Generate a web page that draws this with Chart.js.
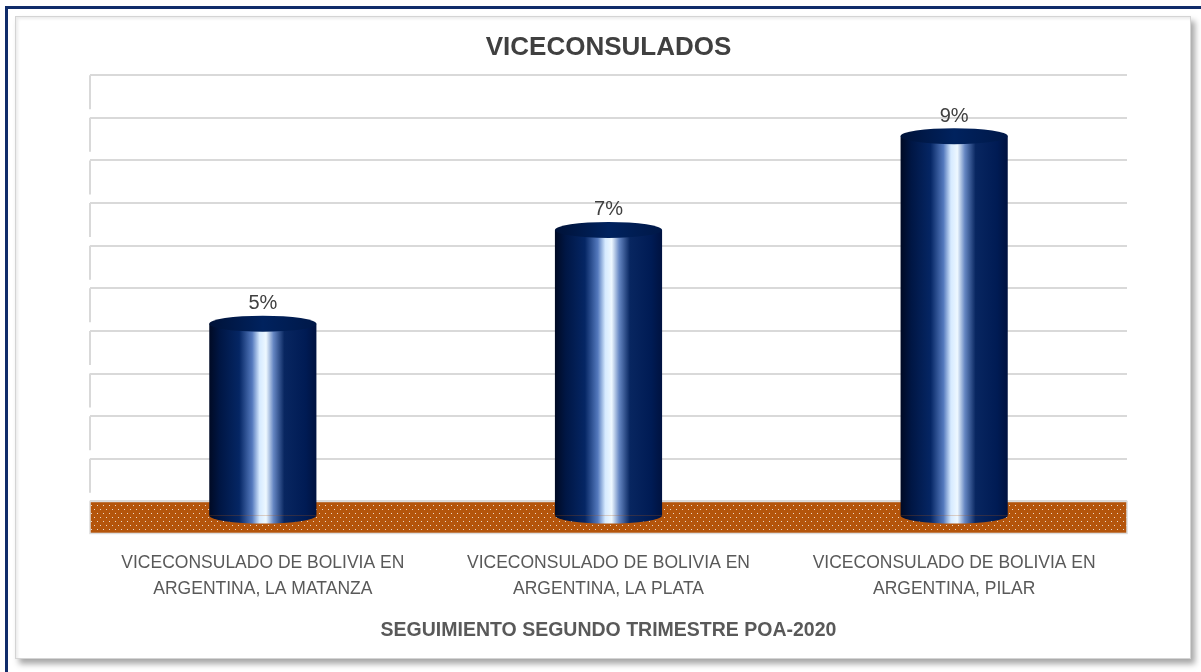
<!DOCTYPE html>
<html>
<head>
<meta charset="utf-8">
<title>Viceconsulados</title>
<script src="https://cdn.jsdelivr.net/npm/chart.js@4/dist/chart.umd.min.js"></script>
<style>
    html, body { margin: 0; padding: 0; background: #fff; overflow: hidden; }
    .outer { position: absolute; left: 5px; top: 6px; width: 1400px; height: 900px;
             border-left: 3px solid #102c6a; border-top: 3px solid #102c6a; }
    .panel { position: absolute; left: 15px; top: 16px; width: 1174px; height: 641px;
             background: #fff; border: 1px solid #d4d4d4;
             box-shadow: 4px 5px 6px rgba(0,0,0,0.35), inset 2px 2px 3px rgba(0,0,0,0.08); }
    #wrap { position: absolute; left: 0; top: 0; width: 1201px; height: 672px; }
</style>
</head>
<body>
<div class="outer"></div>
<div class="panel"></div>
<div id="wrap"><canvas id="chart"></canvas></div>

<script>
// data
const categories = [
    ['VICECONSULADO DE BOLIVIA EN', 'ARGENTINA, LA MATANZA'],
    ['VICECONSULADO DE BOLIVIA EN', 'ARGENTINA, LA PLATA'],
    ['VICECONSULADO DE BOLIVIA EN', 'ARGENTINA, PILAR']
];
const values = [4.5, 6.7, 8.9];          // percent
const gridTicks = [0, 1, 2, 3, 4, 5, 6, 7, 8, 9, 10];

const BAR_PCT = 0.62, CAT_PCT = 0.5;
const FLOOR = 0.75;      // floor depth below the back wall, in value units
const DEPTH = 0.33;      // bars stand this far in front of the back wall
const FONT = '"Liberation Sans", Arial, sans-serif';

// horizontal shine for the cylinders
function cylinderGradient(ctx, left, width) {
    const g = ctx.createLinearGradient(left, 0, left + width, 0);
    g.addColorStop(0, '#000a24');
    g.addColorStop(0.1, '#001644');
    g.addColorStop(0.28, '#052664');
    g.addColorStop(0.4, '#5479bd');
    g.addColorStop(0.47, '#d6eaff');
    g.addColorStop(0.53, '#eef8ff');
    g.addColorStop(0.6, '#6586c2');
    g.addColorStop(0.7, '#082660');
    g.addColorStop(0.9, '#001b54');
    g.addColorStop(1, '#001240');
    return g;
}

function barFill(context) {
    const chart = context.chart;
    const x = chart.scales.x;
    if (!x || !chart.chartArea) return '#002060';
    const w = (x.width / categories.length) * BAR_PCT * CAT_PCT;
    const cx = x.getPixelForValue(context.dataIndex);
    return cylinderGradient(chart.ctx, cx - w / 2, w);
}

// dotted brown pattern for the floor
function floorPattern(ctx) {
    const c = document.createElement('canvas');
    c.width = 6; c.height = 8;
    const p = c.getContext('2d');
    p.fillStyle = '#b4550c';
    p.fillRect(0, 0, 6, 8);
    p.fillStyle = '#ead8c8';
    p.fillRect(1, 1, 1, 1);
    p.fillRect(4, 5, 1, 1);
    return ctx.createPattern(c, 'repeat');
}

const cylinderPlugin = {
    id: 'cylinder',
    beforeDatasetsDraw(chart) {
        const { ctx, chartArea: a, scales: { y } } = chart;
        const y0 = y.getPixelForValue(0);
        ctx.save();
        // left wall stubs
        ctx.strokeStyle = '#d9d9d9';
        ctx.lineWidth = 2;
        gridTicks.forEach(v => {
            if (v === 0) return;
            const py = y.getPixelForValue(v);
            ctx.beginPath();
            ctx.moveTo(a.left, py);
            ctx.lineTo(a.left, py + 34);
            ctx.stroke();
        });
        // floor
        ctx.fillStyle = floorPattern(ctx);
        ctx.fillRect(a.left, y0, a.right - a.left, a.bottom - y0);
        ctx.strokeStyle = '#dcdcdc';
        ctx.lineWidth = 1.5;
        ctx.strokeRect(a.left, y0, a.right - a.left, a.bottom - y0);
        ctx.restore();
    },
    afterDatasetsDraw(chart) {
        const { ctx } = chart;
        const meta = chart.getDatasetMeta(0);
        ctx.save();
        meta.data.forEach((el, i) => {
            const rx = el.width / 2, ry = 8;
            // rounded bottom
            ctx.fillStyle = cylinderGradient(ctx, el.x - rx, el.width);
            ctx.beginPath();
            ctx.ellipse(el.x, el.base, rx, ry, 0, 0, Math.PI);
            ctx.fill();
            // top cap
            const g = ctx.createLinearGradient(el.x - rx, 0, el.x + rx, 0);
            g.addColorStop(0, '#001238');
            g.addColorStop(0.5, '#00225e');
            g.addColorStop(1, '#001848');
            ctx.fillStyle = g;
            ctx.beginPath();
            ctx.ellipse(el.x, el.y, rx, ry, 0, 0, Math.PI * 2);
            ctx.fill();
            // value label
            ctx.fillStyle = '#404040';
            ctx.font = '20px ' + FONT;
            ctx.textAlign = 'center';
            ctx.textBaseline = 'middle';
            ctx.fillText(Math.round(values[i]) + '%', el.x, el.y - ry - 12);
        });
        ctx.restore();
    }
};

new Chart(document.getElementById('chart'), {
    type: 'bar',
    data: {
        labels: categories,
        datasets: [{
            data: values,
            yAxisID: 'bars',
            backgroundColor: barFill,
            borderWidth: 0,
            barPercentage: BAR_PCT,
            categoryPercentage: CAT_PCT
        }]
    },
    options: {
        responsive: true,
        maintainAspectRatio: false,
        animation: false,
        layout: { padding: { left: 90, right: 74, top: 18, bottom: 22 } },
        plugins: {
            legend: { display: false },
            tooltip: { enabled: false },
            title: {
                display: true,
                text: 'VICECONSULADOS',
                color: '#404040',
                font: { family: FONT, size: 26, weight: 'bold' },
                padding: { top: 14, bottom: 12 }
            }
        },
        scales: {
            x: {
                grid: { display: false },
                border: { display: false },
                ticks: {
                    color: '#595959',
                    font: { family: FONT, size: 17.5, lineHeight: 1.49 },
                    padding: 9,
                    maxRotation: 0,
                    autoSkip: false
                },
                title: {
                    display: true,
                    text: 'SEGUIMIENTO SEGUNDO TRIMESTRE POA-2020',
                    color: '#595959',
                    font: { family: FONT, size: 19.5, weight: 'bold' },
                    padding: { top: 7, bottom: 8 }
                }
            },
            // back wall scale (gridlines)
            y: {
                min: -FLOOR,
                max: 10,
                afterBuildTicks: scale => { scale.ticks = gridTicks.map(v => ({ value: v })); },
                ticks: { display: false },
                grid: { color: '#d9d9d9', lineWidth: 2, drawTicks: false },
                border: { display: false }
            },
            // same scale, shifted to the plane the cylinders stand on
            bars: {
                position: 'left',
                display: false,
                min: -FLOOR + DEPTH,
                max: 10 + DEPTH
            }
        }
    },
    plugins: [cylinderPlugin]
});
</script>
</body>
</html>
